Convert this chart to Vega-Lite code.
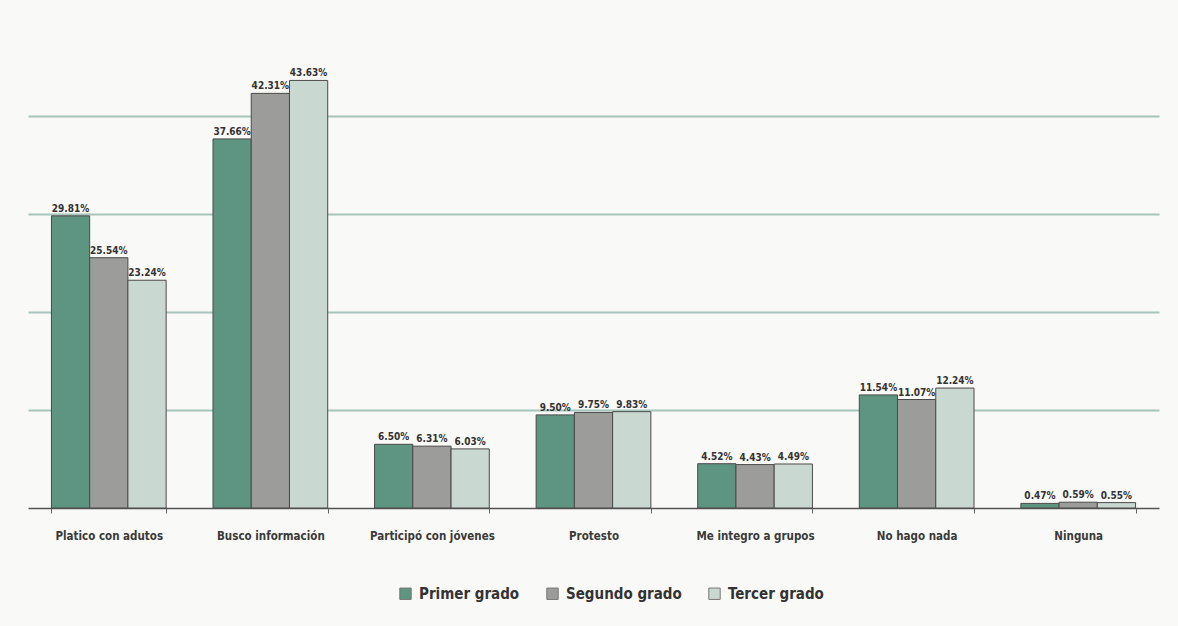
{
  "$schema": "https://vega.github.io/schema/vega-lite/v6.json",
  "autosize": "none",
  "width": 1131,
  "height": 490,
  "padding": {"left": 28, "top": 18, "right": 19, "bottom": 118},
  "background": "#f9f9f7",
  "config": {
    "view": {"stroke": null},
    "font": "DejaVu Sans Condensed, Liberation Sans Narrow, Roboto Condensed, Liberation Sans, sans-serif"
  },
  "data": {
    "values": [
      {"cat": "Platico con adutos", "grado": "Primer grado", "v": 29.81},
      {"cat": "Platico con adutos", "grado": "Segundo grado", "v": 25.54},
      {"cat": "Platico con adutos", "grado": "Tercer grado", "v": 23.24},
      {"cat": "Busco información", "grado": "Primer grado", "v": 37.66},
      {"cat": "Busco información", "grado": "Segundo grado", "v": 42.31},
      {"cat": "Busco información", "grado": "Tercer grado", "v": 43.63},
      {"cat": "Participó con jóvenes", "grado": "Primer grado", "v": 6.50},
      {"cat": "Participó con jóvenes", "grado": "Segundo grado", "v": 6.31},
      {"cat": "Participó con jóvenes", "grado": "Tercer grado", "v": 6.03},
      {"cat": "Protesto", "grado": "Primer grado", "v": 9.50},
      {"cat": "Protesto", "grado": "Segundo grado", "v": 9.75},
      {"cat": "Protesto", "grado": "Tercer grado", "v": 9.83},
      {"cat": "Me integro a grupos", "grado": "Primer grado", "v": 4.52},
      {"cat": "Me integro a grupos", "grado": "Segundo grado", "v": 4.43},
      {"cat": "Me integro a grupos", "grado": "Tercer grado", "v": 4.49},
      {"cat": "No hago nada", "grado": "Primer grado", "v": 11.54},
      {"cat": "No hago nada", "grado": "Segundo grado", "v": 11.07},
      {"cat": "No hago nada", "grado": "Tercer grado", "v": 12.24},
      {"cat": "Ninguna", "grado": "Primer grado", "v": 0.47},
      {"cat": "Ninguna", "grado": "Segundo grado", "v": 0.59},
      {"cat": "Ninguna", "grado": "Tercer grado", "v": 0.55}
    ]
  },
  "transform": [
    {"calculate": "format(datum.v, '.2f') + '%'", "as": "label"}
  ],
  "encoding": {
    "x": {
      "field": "cat", "type": "nominal", "sort": null,
      "scale": {"paddingInner": 0.29, "paddingOuter": 0.145},
      "axis": {
        "title": null, "labelAngle": 0, "labelFontSize": 11.5, "labelFontWeight": "bold",
        "labelColor": "#3a3a3a", "labelPadding": 17, "domainColor": "#555555", "domainWidth": 1.5,
        "tickBand": "extent", "tickColor": "#666666", "tickSize": 5, "ticks": true
      }
    },
    "xOffset": {"field": "grado", "type": "nominal", "sort": ["Primer grado", "Segundo grado", "Tercer grado"]},
    "y": {
      "field": "v", "type": "quantitative",
      "scale": {"domain": [0, 50], "nice": false},
      "axis": {
        "title": null, "labels": false, "ticks": false, "domain": false,
        "values": [10, 20, 30, 40], "gridColor": "#a8c4bc", "gridWidth": 2
      }
    }
  },
  "layer": [
    {
      "mark": {"type": "bar", "stroke": "#4a4a4a", "strokeWidth": 1},
      "encoding": {
        "color": {
          "field": "grado", "type": "nominal",
          "sort": ["Primer grado", "Segundo grado", "Tercer grado"],
          "scale": {"domain": ["Primer grado", "Segundo grado", "Tercer grado"], "range": ["#5e9482", "#9c9c9a", "#cad8d2"]},
          "legend": {
            "title": null, "orient": "none", "direction": "horizontal",
            "legendX": 370, "legendY": 568, "symbolType": "square", "symbolSize": 130,
            "symbolStrokeColor": "#777777", "symbolStrokeWidth": 1,
            "labelFontSize": 15, "labelFontWeight": "bold", "labelColor": "#333333",
            "columnPadding": 24, "labelOffset": 6
          }
        }
      }
    },
    {
      "mark": {"type": "text", "baseline": "bottom", "dy": -2, "fontSize": 10, "fontWeight": "bold", "color": "#333333", "letterSpacing": -0.9},
      "encoding": {
        "text": {"field": "label", "type": "nominal"},
        "detail": {"field": "grado"}
      }
    }
  ]
}
